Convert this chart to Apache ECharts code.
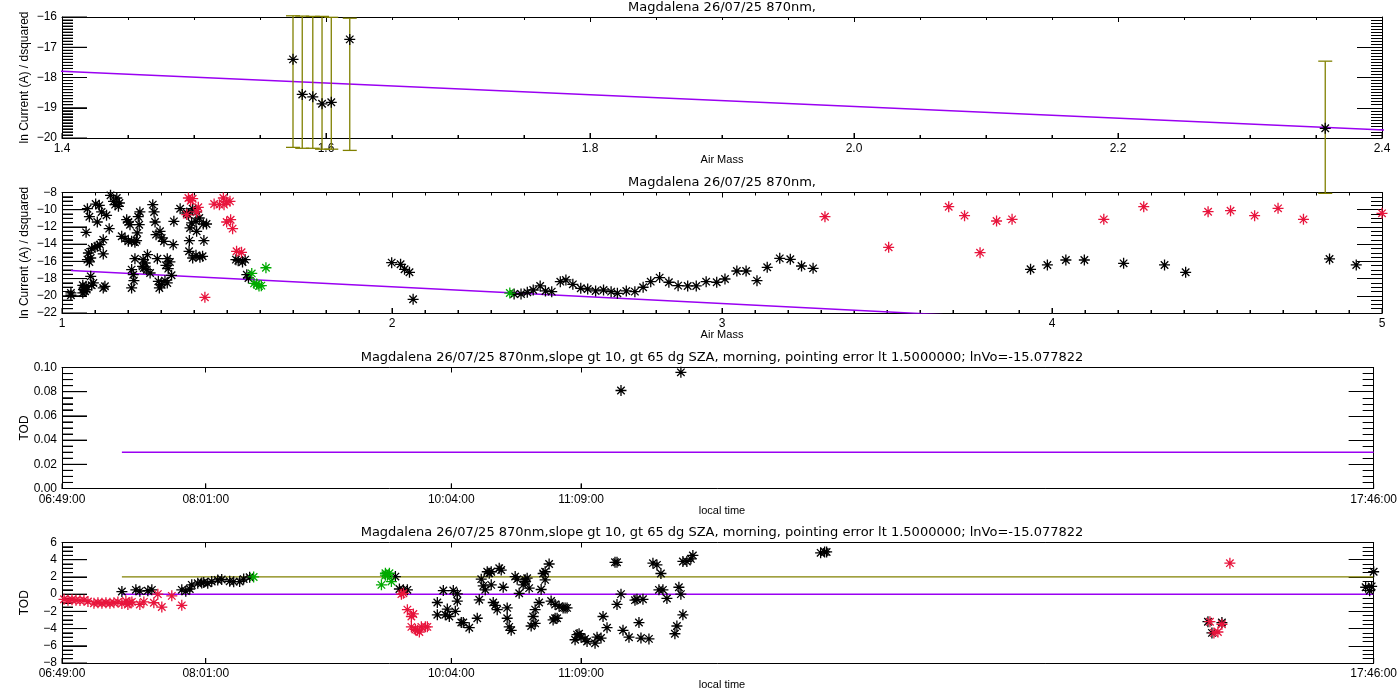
<!DOCTYPE html>
<html>
<head>
<meta charset="utf-8">
<script src="https://cdn.jsdelivr.net/npm/echarts@6/dist/echarts.min.js"></script>
<style>
html,body{margin:0;padding:0;background:#fff;}
#c{width:1400px;height:700px;}
</style>
</head>
<body>
<div id="c"></div>
<script>
// ---------------- DATA ----------------
const TITLE_SHORT = 'Magdalena 26/07/25 870nm,';
const TITLE_LONG = 'Magdalena 26/07/25 870nm,slope gt 10, gt 65 dg SZA, morning, pointing error lt 1.5000000; lnVo=-15.077822';

// accepted points (top panel, green in 2nd panel)
const goodAirMass = [1.575, 1.582, 1.590, 1.597, 1.604, 1.618, 2.357];
const goodLnI     = [-17.40, -18.56, -18.64, -18.87, -18.82, -16.74, -19.68];
const goodErrLow  = [-20.31, -20.34, -20.34, -20.37, -20.37, -20.41, -21.83];
const goodErrHigh = [-15.96, -15.97, -15.98, -15.98, -16.01, -16.04, -17.46];

// Langley fit line (end points), ln V0 = -15.077822
const fitLine = [[1.027, -17.07], [4.922, -24.63]];

// 2nd panel: rejected points (black) and flagged points (red), [airmass, lnI]
const blackAirMassLnI = [
 [1.027,-19.94],[1.027,-19.67],[1.063,-19.67],[1.065,-19.28],[1.067,-19.09],[1.070,-19.48],[1.073,-18.90],[1.075,-19.28],[1.063,-18.78],[1.090,-18.78],[1.095,-18.51],[1.087,-17.74],[1.130,-18.90],[1.125,-19.09],
 [1.073,-12.63],[1.077,-9.88],[1.083,-10.81],[1.102,-9.34],[1.113,-9.49],[1.107,-11.43],[1.120,-10.26],[1.135,-10.65],[1.143,-12.20],[1.147,-8.33],[1.156,-9.03],[1.166,-8.64],[1.174,-9.22],[1.171,-9.61],[1.161,-9.41],
 [1.125,-13.48],[1.107,-14.25],[1.090,-14.52],[1.100,-14.37],[1.115,-14.06],[1.080,-15.03],[1.087,-15.61],[1.077,-15.80],[1.125,-15.14],[1.083,-16.07],
 [1.196,-11.16],[1.201,-11.43],[1.206,-11.74],[1.236,-10.26],[1.231,-10.81],[1.234,-11.74],[1.228,-12.70],[1.181,-13.09],[1.191,-13.36],[1.201,-13.67],[1.211,-13.67],[1.221,-13.79],[1.226,-13.59],
 [1.275,-9.41],[1.279,-10.26],[1.282,-11.43],[1.285,-12.90],[1.297,-12.51],[1.302,-13.28],[1.309,-13.67],[1.337,-14.06],[1.339,-11.35],[1.358,-9.88],[1.378,-10.38],
 [1.221,-15.69],[1.246,-15.80],[1.259,-15.22],[1.252,-16.19],[1.244,-16.58],[1.248,-16.77],[1.257,-16.96],[1.267,-17.35],[1.211,-16.96],[1.216,-17.55],[1.218,-18.24],[1.211,-19.09],[1.289,-15.69],[1.319,-15.69],[1.327,-16.07],[1.315,-16.46],[1.322,-16.85],[1.332,-17.62],
 [1.292,-18.32],[1.302,-18.71],[1.312,-18.24],[1.319,-18.51],[1.295,-19.09],
 [1.385,-14.83],[1.396,-15.61],[1.406,-15.30],[1.418,-15.53],[1.426,-15.41],[1.386,-13.59],[1.408,-12.51],[1.430,-13.59],[1.388,-12.12],[1.393,-11.54],[1.406,-11.35],[1.416,-10.96],[1.428,-11.66],[1.438,-11.66],[1.408,-10.26],[1.396,-9.88],[1.383,-10.57],
 [1.527,-15.80],[1.534,-15.92],[1.547,-16.07],[1.555,-15.80],[1.560,-17.55],[1.565,-17.93],
 [1.999,-16.15],[2.026,-16.34],[2.038,-16.92],[2.053,-17.27],[2.064,-20.41],
 [2.370,-19.79],[2.391,-19.79],[2.410,-19.60],[2.428,-19.33],[2.449,-18.86],[2.465,-19.44],[2.484,-19.52],[2.510,-18.36],[2.527,-18.16],[2.548,-18.67],
 [2.572,-19.13],[2.593,-19.21],[2.617,-19.44],[2.641,-19.33],[2.664,-19.52],[2.683,-19.71],[2.710,-19.44],[2.736,-19.52],[2.761,-19.01],[2.784,-18.36],
 [2.811,-17.89],[2.839,-18.43],[2.867,-18.82],[2.896,-18.86],[2.922,-18.86],[2.952,-18.36],[2.984,-18.43],[3.009,-18.05],[3.045,-17.12],[3.073,-17.12],
 [3.106,-18.24],[3.137,-16.69],[3.175,-15.65],[3.207,-15.76],[3.241,-16.54],[3.276,-16.81],
 [3.935,-16.92],[3.986,-16.42],[4.042,-15.84],[4.098,-15.84],[4.217,-16.23],[4.341,-16.42],[4.405,-17.27],[4.841,-15.72],[4.922,-16.42]
];
const redAirMassLnI = [
 [1.383,-8.64],[1.396,-8.72],[1.390,-8.95],[1.413,-9.72],[1.408,-10.26],[1.378,-10.57],[1.461,-9.34],[1.477,-9.41],[1.489,-8.64],[1.499,-9.10],
 [1.509,-9.03],[1.491,-9.41],[1.499,-11.43],[1.511,-11.16],[1.517,-12.20],[1.529,-14.83],[1.544,-14.95],[1.433,-20.18],
 [3.312,-10.81],[3.505,-14.37],[3.687,-9.65],[3.735,-10.69],[3.782,-14.99],[3.832,-11.31],[3.879,-11.12],[4.157,-11.12],[4.278,-9.65],
 [4.473,-10.23],[4.541,-10.11],[4.614,-10.69],[4.685,-9.84],[4.762,-11.12],[5.000,-10.42]
];

// 3rd panel: TOD vs local time
const todTimeValue = [["11:29",0.081],["11:59",0.096]];
const todLevelLine = [["07:19",0.03],["17:46",0.03]];

// 4th panel
const zeroLine = [["07:19",0],["17:46",0]];
const limitLine = [["07:19",2],["17:46",2]];
const blackTimeTOD = [
 ["07:19",0.3],["07:26",0.5],["07:28",0.35],["07:32",0.4],["07:34",0.5],["07:49",0.5],["07:51",0.35],["07:53",0.6],["07:54",1.08],["07:57",1.27],
 ["07:59",1.3],["08:00",1.36],["08:02",1.27],["08:04",1.46],["08:07",1.65],["08:09",1.7],["08:13",1.5],["08:15",1.45],["08:18",1.46],["08:20",1.75],["08:23",1.97],
 ["09:36",2.04],["09:38",0.6],["09:40",0.5],["09:42",0.5],
 ["09:57",-2.4],["09:57",-0.97],["10:00",0.42],["10:01",-2.4],["10:03",-2.6],["10:02",-1.74],["10:05",0.42],["10:07",0.04],["10:06",-2.0],["10:07",-0.8],
 ["10:09",-3.3],["10:10",-3.3],["10:13",-3.9],["10:17",-2.8],["10:18",-0.66],["10:19",1.74],["10:20",0.96],["10:21",0.5],["10:23",2.43],["10:24",1.08],
 ["10:22",2.6],["10:24",2.6],["10:25",-0.97],["10:26",-1.3],["10:27",-1.8],["10:28",3.0],["10:29",2.8],["10:30",0.8],["10:32",-1.6],["10:32",-2.8],
 ["10:33",-3.8],["10:34",-4.2],["10:36",2.04],["10:37",1.74],["10:38",0.1],["10:40",1.08],["10:41",1.66],["10:41",1.46],["10:42",1.85],["10:43",0.7],
 ["10:44",-3.7],["10:46",-3.4],["10:45",-2.6],["10:46",-1.8],["10:48",-0.97],["10:49",0.54],["10:50",2.4],["10:51",2.6],["10:51",1.66],["10:53",3.5],
 ["10:54",-0.8],["10:56",-1.2],["10:55",-3.0],["10:56",-2.8],["10:57",-2.8],["10:58",-1.4],["11:00",-1.6],["11:01",-1.6],["11:02",-1.6],["11:07",-4.7],
 ["11:09",-5.0],["11:08",-4.6],["11:11",-5.2],["11:06",-5.3],["11:12",-5.5],["11:16",-5.7],["11:17",-5.0],["11:19",-5.1],["11:20",-2.6],["11:22",-3.9],
 ["11:26",3.7],["11:27",3.7],["11:27",-1.2],["11:29",0.0],["11:30",-4.2],["11:33",-5.0],["11:36",-0.7],["11:37",-0.6],["11:40",-0.6],["11:38",-3.3],
 ["11:39",-5.1],["11:43",-5.2],["11:45",3.6],["11:47",3.4],["11:49",2.4],["11:48",0.5],["11:50",0.5],["11:52",-0.5],["11:56",-4.6],["11:57",-3.7],
 ["11:58",0.8],["11:59",0.0],["12:00",-2.4],["12:00",3.8],["12:02",3.8],["12:04",4.1],["12:05",4.5],
 ["13:09",4.8],["13:11",4.9],["13:12",4.9],
 ["16:23",-3.2],["16:25",-4.5],["16:30",-3.3],
 ["17:42",0.8],["17:44",0.4],["17:45",0.9],["17:46",2.6]
];
const redTimeTOD = [
 ["06:50",-0.6],["06:52",-0.7],["06:54",-0.65],["06:56",-0.7],["06:58",-0.75],["07:00",-0.7],["07:02",-0.85],
 ["07:05",-1.05],["07:07",-1.0],["07:09",-1.05],["07:11",-1.0],["07:13",-1.05],
 ["07:15",-1.0],["07:17",-0.9],["07:19",-1.1],["07:21",-0.8],["07:23",-1.0],["07:22",-1.2],["07:24",-0.9],
 ["07:28",-1.2],["07:30",-0.9],["07:35",-1.0],["07:37",0.0],["07:39",-1.5],["07:44",-0.2],["07:49",-1.3],
 ["09:39",0.0],["09:40",0.1],["09:42",-1.8],["09:44",-2.6],["09:45",-2.3],["09:44",-3.8],["09:46",-4.1],["09:47",-4.2],["09:48",-4.4],["09:49",-3.8],["09:51",-3.8],["09:52",-3.8],
 ["16:24",-3.2],["16:26",-4.5],["16:28",-4.4],["16:30",-3.5],["16:34",3.6]
];
const greenTimeTOD = [["08:25",2.0],["09:29",1.08],["09:31",2.43],["09:32",2.2],["09:33",2.43],["09:31",2.2],["09:34",1.46]];

// axis tick labels (local time)
const timeTickLabels = ["06:49:00","08:01:00","10:04:00","11:09:00","17:46:00"];

// ---------------- CHART ----------------
const BLACK = '#000000', RED = '#e8143c', GREEN = '#00aa00', PURPLE = '#9a00f2', OLIVE = '#808000';
const ASTER = 'path://M5,0L5,10M0,5L10,5M1.6,1.6L8.4,8.4M1.6,8.4L8.4,1.6';
const LABEL_FONT = 'Liberation Sans';

const toMin = s => { const p = s.split(':').map(Number); return p[0]*60 + p[1] + (p[2]||0)/60; };
const pad = n => (n < 10 ? '0' : '') + n;
const fmtMin = v => { const h = Math.floor(v/60 + 1e-6); const m = Math.round(v - h*60); return pad(h)+':'+pad(m)+':00'; };
const minus = s => String(s).replace('-', '\u2212');
const timeTicks = timeTickLabels.map(toMin);
const tMin = timeTicks[0], tMax = timeTicks[timeTicks.length-1];

const grids = [
  {left:62, top:17, width:1320, height:121},
  {left:62, top:192.5, width:1320, height:120.5},
  {left:62, top:367.5, width:1320, height:121},
  {left:62, top:542.5, width:1320, height:120.5}
];

const ls = () => ({color: BLACK, width: 1});

function xOne(gi, cfg, pos) {
  const ax = {
    type:'value', gridIndex: gi, min: cfg.min, max: cfg.max, position: pos,
    axisLine:{show:true, onZero:false, lineStyle: ls()},
    splitLine:{show:false},
    axisTick:{show:true, inside:true, length:5, lineStyle: ls()},
    minorTick: cfg.minor ? {show:true, splitNumber: cfg.minor, length:3, lineStyle: ls()} : {show:false}
  };
  if (cfg.interval) ax.interval = cfg.interval;
  if (cfg.custom) ax.axisTick.customValues = cfg.custom.slice();
  if (pos === 'bottom') {
    ax.axisLabel = {show:true, color: BLACK, fontFamily: LABEL_FONT, fontSize: 12, margin: 5, formatter: cfg.fmt};
    if (cfg.custom) ax.axisLabel.customValues = cfg.custom.slice();
  } else {
    ax.axisLabel = {show:false};
  }
  return ax;
}
function yOne(gi, cfg, pos) {
  const ax = {
    type:'value', gridIndex: gi, min: cfg.min, max: cfg.max, interval: cfg.interval, position: pos,
    axisLine:{show:true, onZero:false, lineStyle: ls()},
    splitLine:{show:false},
    axisTick:{show:true, inside:true, length:25, lineStyle: ls()},
    minorTick:{show:true, splitNumber: cfg.minor, length:11, lineStyle: ls()}
  };
  ax.axisLabel = pos === 'left'
    ? {show:true, color: BLACK, fontFamily: LABEL_FONT, fontSize: 12, margin: 5, formatter: cfg.fmt}
    : {show:false};
  return ax;
}

const xCfg = [
  {min:1.4, max:2.4, interval:0.2, minor:4, name:'Air Mass', fmt: v => v.toFixed(1)},
  {min:1, max:5, interval:1, minor:10, name:'Air Mass', fmt: v => String(Math.round(v))},
  {min:tMin, max:tMax, custom: timeTicks, name:'local time', fmt: v => fmtMin(v)},
  {min:tMin, max:tMax, custom: timeTicks, name:'local time', fmt: v => fmtMin(v)}
];
const yCfg = [
  {min:-20, max:-16, interval:1, minor:10, name:'ln Current (A) / dsquared', fmt: v => minus(Math.round(v))},
  {min:-22, max:-8, interval:2, minor:4, name:'ln Current (A) / dsquared', fmt: v => minus(Math.round(v))},
  {min:0, max:0.1, interval:0.02, minor:4, name:'TOD', fmt: v => v.toFixed(2)},
  {min:-8, max:6, interval:2, minor:4, name:'TOD', fmt: v => minus(Math.round(v))}
];
const xAxis = [], yAxis = [];
for (let i = 0; i < 4; i++) {
  xAxis.push(xOne(i, xCfg[i], 'bottom'), xOne(i, xCfg[i], 'top'));
  yAxis.push(yOne(i, yCfg[i], 'left'), yOne(i, yCfg[i], 'right'));
}

function stars(gi, data, color) {
  return {
    type:'scatter', xAxisIndex: gi*2, yAxisIndex: gi*2, data: data,
    symbol: ASTER, symbolSize: 11, silent: true,
    itemStyle:{color:'rgba(0,0,0,0)', borderColor: color, borderWidth: 1.3, opacity: 1},
    emphasis:{disabled:true}, z: 5
  };
}
function line(gi, data, color, width) {
  return {
    type:'line', xAxisIndex: gi*2, yAxisIndex: gi*2, data: data, clip: true,
    symbol:'none', silent:true, lineStyle:{color: color, width: width || 1.5}, emphasis:{disabled:true}, z: 3
  };
}

// inward tick marks along the left and bottom axes, placed through the axes' own scales
function leftTicks(gi) {
  const c = yCfg[gi], x0 = xCfg[gi].min;
  const per = Math.round(c.interval / (c.interval / c.minor));
  const n = Math.round((c.max - c.min) / c.interval) * c.minor;
  const d = [];
  for (let k = 0; k <= n; k++) d.push([x0, c.min + k * (c.max - c.min) / n, (k % c.minor === 0) ? 25 : 11]);
  return {
    type:'custom', xAxisIndex: gi*2, yAxisIndex: gi*2, clip:false, silent:true, z: 2, data: d,
    encode:{x:0, y:1},
    renderItem: function (params, api) {
      const p = api.coord([api.value(0), api.value(1)]);
      return {type:'line', shape:{x1:p[0], y1:p[1], x2:p[0] + api.value(2), y2:p[1]},
              style:{stroke: BLACK, lineWidth: 1}};
    }
  };
}
function bottomTicks(gi) {
  const c = xCfg[gi], y0 = yCfg[gi].min;
  const d = [];
  if (c.custom) {
    c.custom.forEach(v => d.push([v, y0, 5]));
  } else {
    const n = Math.round((c.max - c.min) / c.interval) * c.minor;
    for (let k = 0; k <= n; k++) d.push([c.min + k * (c.max - c.min) / n, y0, (k % c.minor === 0) ? 5 : 3]);
  }
  return {
    type:'custom', xAxisIndex: gi*2, yAxisIndex: gi*2, clip:false, silent:true, z: 2, data: d,
    encode:{x:0, y:1},
    renderItem: function (params, api) {
      const p = api.coord([api.value(0), api.value(1)]);
      return {type:'line', shape:{x1:p[0], y1:p[1], x2:p[0], y2:p[1] - api.value(2)},
              style:{stroke: BLACK, lineWidth: 1}};
    }
  };
}

const tPairs = arr => arr.map(d => [toMin(d[0]), d[1]]);
const goodPairs = goodAirMass.map((m, i) => [m, goodLnI[i]]);

const series = [
  leftTicks(0), leftTicks(1), leftTicks(2), leftTicks(3),
  bottomTicks(0), bottomTicks(1), bottomTicks(2), bottomTicks(3),
  {
    type:'custom', xAxisIndex:0, yAxisIndex:0, clip:false, silent:true, z:4,
    data: goodAirMass.map((m, i) => [m, goodErrLow[i], goodErrHigh[i]]),
    encode:{x:0, y:[1,2]},
    renderItem: function (params, api) {
      const lo = api.coord([api.value(0), api.value(1)]);
      const hi = api.coord([api.value(0), api.value(2)]);
      const w = 7;
      const st = {stroke: OLIVE, lineWidth: 1.3, fill: null};
      return {type:'group', children:[
        {type:'line', shape:{x1:lo[0], y1:lo[1], x2:hi[0], y2:hi[1]}, style: st},
        {type:'line', shape:{x1:lo[0]-w, y1:lo[1], x2:lo[0]+w, y2:lo[1]}, style: st},
        {type:'line', shape:{x1:hi[0]-w, y1:hi[1], x2:hi[0]+w, y2:hi[1]}, style: st}
      ]};
    }
  },
  line(0, fitLine, PURPLE),
  stars(0, goodPairs, BLACK),
  line(1, fitLine, PURPLE),
  stars(1, blackAirMassLnI, BLACK),
  stars(1, redAirMassLnI, RED),
  stars(1, goodPairs, GREEN),
  line(2, tPairs(todLevelLine), PURPLE),
  stars(2, tPairs(todTimeValue), BLACK),
  line(3, tPairs(limitLine), OLIVE, 1.3),
  line(3, tPairs(zeroLine), PURPLE),
  stars(3, tPairs(blackTimeTOD), BLACK),
  stars(3, tPairs(redTimeTOD), RED),
  stars(3, tPairs(greenTimeTOD), GREEN)
];

const titleY = [8, 183, 358, 533];
const titles = [TITLE_SHORT, TITLE_SHORT, TITLE_LONG, TITLE_LONG];
const graphic = titles.map((t, i) => ({
  type:'text', x: 722, y: titleY[i], silent:true,
  style:{text: t, fill: BLACK, font: '13px "DejaVu Sans"', align:'center', verticalAlign:'middle',
         textAlign:'center', textVerticalAlign:'middle'}
}));
[0, 1, 2, 3].forEach(i => {
  const g = grids[i];
  graphic.push({type:'text', x: 722, y: g.top + g.height + 22, silent:true,
    style:{text: xCfg[i].name, fill: BLACK, font: '11px "Liberation Sans"', align:'center', verticalAlign:'middle'}});
  graphic.push({type:'text', x: 25, y: g.top + g.height/2, rotation: Math.PI/2, silent:true,
    style:{text: yCfg[i].name, fill: BLACK, font: '12px "Liberation Sans"', align:'center', verticalAlign:'middle'}});
});

const chart = echarts.init(document.getElementById('c'));
chart.setOption({
  animation: false,
  backgroundColor: '#ffffff',
  grid: grids,
  xAxis: xAxis,
  yAxis: yAxis,
  series: series,
  graphic: graphic
});
</script>
</body>
</html>
